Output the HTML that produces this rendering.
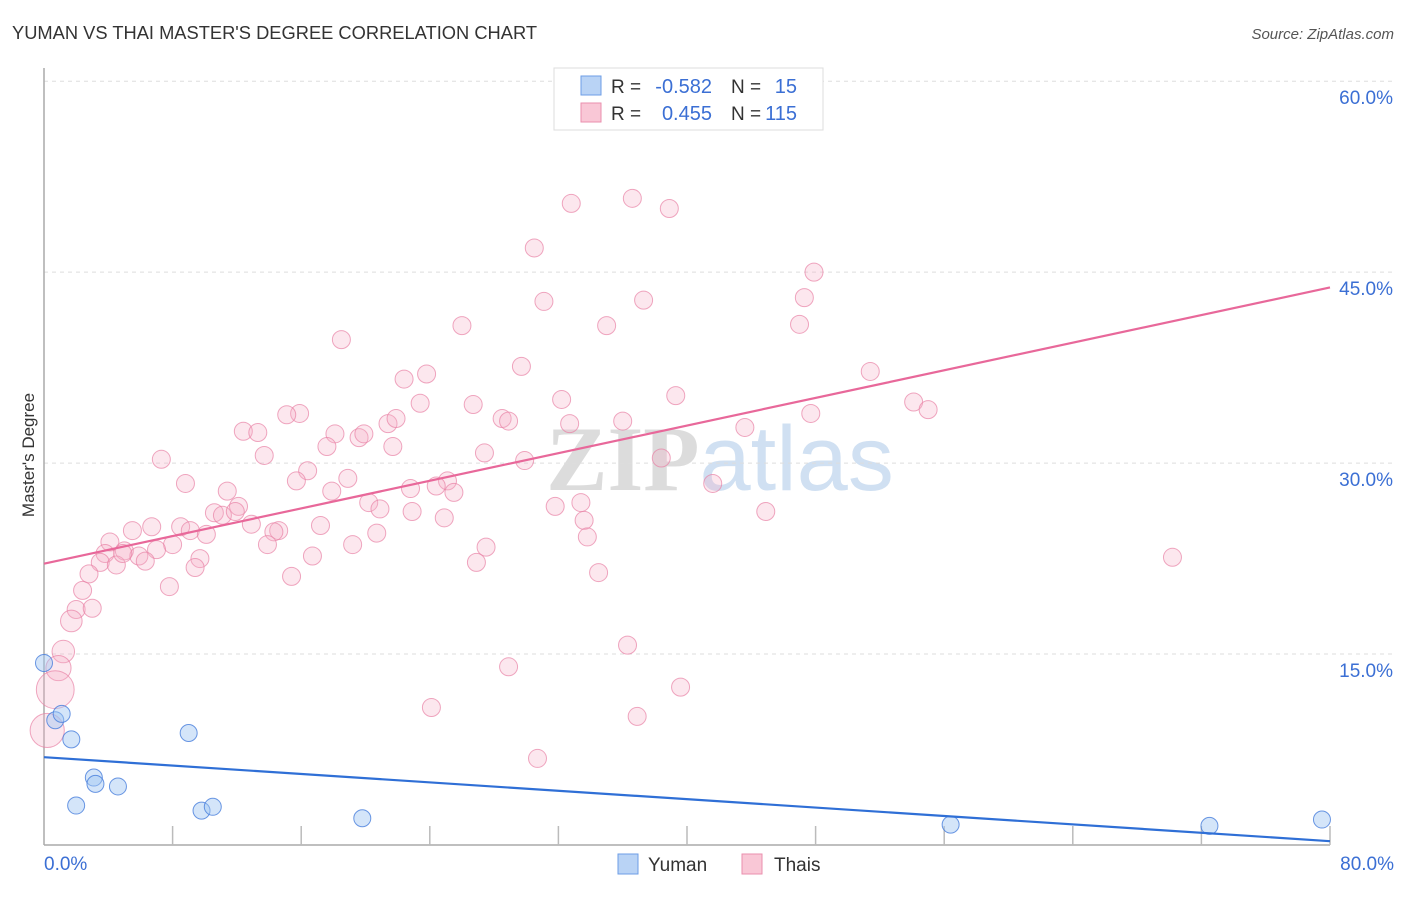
<!DOCTYPE html>
<html><head><meta charset="utf-8"><style>
body{margin:0;background:#fff;font-family:"Liberation Sans",sans-serif}
svg text{font-family:"Liberation Sans",sans-serif}
</style></head><body>
<svg id="chart" width="1406" height="892" viewBox="0 0 1406 892" xmlns="http://www.w3.org/2000/svg">
<text x="12" y="39" font-size="18" fill="#333" textLength="525" lengthAdjust="spacingAndGlyphs">YUMAN VS THAI MASTER'S DEGREE CORRELATION CHART</text>
<text x="1394" y="39" font-size="15" fill="#555" text-anchor="end" font-style="italic">Source: ZipAtlas.com</text>
<text x="720" y="490" font-size="92" text-anchor="middle"><tspan fill="#dcdcdc" font-family="Liberation Serif" font-weight="bold">ZIP</tspan><tspan fill="#d0e0f2">atlas</tspan></text>
<g id="grid"></g>
<g id="axes"></g>
<g id="marks"></g>
<g id="trend"></g>
<text transform="translate(34,455) rotate(-90)" font-size="17" fill="#333" text-anchor="middle">Master's Degree</text>
<g>
<rect x="554" y="68" width="269" height="62" fill="#fff" stroke="#ddd"/>
<rect x="581" y="76" width="20" height="19" fill="#b9d3f5" stroke="#6d9ee6"/>
<text x="611" y="93" font-size="19" fill="#333">R =</text>
<text x="712" y="93" font-size="20" fill="#3b6fd4" text-anchor="end">-0.582</text>
<text x="731" y="93" font-size="19" fill="#333">N =</text>
<text x="797" y="93" font-size="20" fill="#3b6fd4" text-anchor="end">15</text>
<rect x="581" y="103" width="20" height="19" fill="#f9c7d6" stroke="#ea8fae"/>
<text x="611" y="120" font-size="19" fill="#333">R =</text>
<text x="712" y="120" font-size="20" fill="#3b6fd4" text-anchor="end">0.455</text>
<text x="731" y="120" font-size="19" fill="#333">N =</text>
<text x="797" y="120" font-size="20" fill="#3b6fd4" text-anchor="end">115</text>
</g>
<g>
<rect x="618" y="854" width="20" height="20" fill="#b9d3f5" stroke="#6d9ee6"/>
<text x="648" y="871" font-size="19" fill="#333">Yuman</text>
<rect x="742" y="854" width="20" height="20" fill="#f9c7d6" stroke="#ea8fae"/>
<text x="774" y="871" font-size="19" fill="#333">Thais</text>
</g>
</svg>
<script>
const yTicks=[15,30,45,60];
const yTickLabels=["15.0%","30.0%","45.0%","60.0%"];
const xTickValues=[0,8,16,24,32,40,48,56,64,72,80];
const xEndLabels=["0.0%","80.0%"];
const yumanX=[0,0.7,1.1,1.7,3.1,3.2,4.6,2.0,9.0,9.8,10.5,19.8,56.4,72.5,79.5];
const yumanY=[14.3,9.8,10.3,8.3,5.3,4.8,4.6,3.1,8.8,2.7,3.0,2.1,1.6,1.5,2.0];
const thaiX=[36.6,32.8,38.9,30.5,47.9,31.1,47.3,37.3,26.0,35.0,47.0,18.5,29.7,22.4,23.8,51.4,39.3,23.4,32.2,54.1,55.0,26.7,28.5,28.9,21.4,21.9,47.7,15.9,15.1,36.0,32.7,43.6,12.4,13.3,18.1,17.6,19.6,19.9,21.7,7.3,13.7,27.4,29.9,38.4,16.4,8.8,15.7,25.1,11.4,17.9,18.9,22.8,24.4,25.5,41.6,20.2,12.1,10.6,11.1,11.9,20.9,22.9,31.8,33.4,24.9,44.9,12.9,33.6,17.2,6.7,5.5,8.5,9.1,10.1,14.6,14.3,20.7,33.8,4.1,8.0,13.9,19.2,27.5,3.8,5.0,7.0,16.7,9.7,5.9,6.3,3.5,4.5,4.9,26.9,9.4,2.8,15.4,34.5,7.8,2.4,2.0,3.0,1.7,1.2,0.9,0.7,0.2,36.3,28.9,39.6,24.1,36.9,30.7,70.2];
const thaiY=[50.8,50.4,50.0,46.9,45.0,42.7,43.0,42.8,40.8,40.8,40.9,39.7,37.6,36.6,37.0,37.2,35.3,34.7,35.0,34.8,34.2,34.6,33.5,33.3,33.1,33.5,33.9,33.9,33.8,33.3,33.1,32.8,32.5,32.4,32.3,31.3,32.0,32.3,31.3,30.3,30.6,30.8,30.2,30.4,29.4,28.4,28.6,28.6,27.8,27.8,28.8,28.0,28.2,27.7,28.4,26.9,26.6,26.1,25.9,26.2,26.4,26.2,26.6,26.9,25.7,26.2,25.2,25.5,25.1,25.0,24.7,25.0,24.7,24.4,24.7,24.6,24.5,24.2,23.8,23.6,23.6,23.6,23.4,22.9,23.1,23.2,22.7,22.5,22.7,22.3,22.2,22.0,22.9,22.2,21.8,21.3,21.1,21.4,20.3,20.0,18.5,18.6,17.6,15.2,13.9,12.2,9.0,15.7,14.0,12.4,10.8,10.1,6.8,22.6];
const thaiWeight={103:1.25,104:1.4,105:2.1,106:1.9,102:1.2};
const thaiTrend=[22.1,43.8];
const yumanTrend=[6.9,0.3];
const NS="http://www.w3.org/2000/svg";
const X0=44,X1=1330,Y0=845,PXY=12.73;
function xs(v){return X0+(X1-X0)*v/80;}
function ys(v){return Y0-PXY*v;}
function mk(tag,attrs,parent){const e=document.createElementNS(NS,tag);for(const k in attrs)e.setAttribute(k,attrs[k]);parent.appendChild(e);return e;}
const grid=document.getElementById('grid'),axes=document.getElementById('axes'),marks=document.getElementById('marks'),trend=document.getElementById('trend');
yTicks.forEach((t,i)=>{
 const l=mk('line',{x1:X0,x2:1394,y1:ys(t),y2:ys(t),stroke:'#ddd','stroke-dasharray':'4,4'},grid);
 
 
 const tx=mk('text',{x:1393,y:ys(t)+23,'font-size':19,fill:'#3b6fd4','text-anchor':'end'},grid);
 tx.textContent=yTickLabels[i];
 
 
});
const ax=mk('line',{x1:X0,x2:X0,y1:68,y2:Y0,stroke:'#aaa','stroke-width':1.5},axes);


const bx=mk('line',{x1:X0,x2:X1,y1:Y0,y2:Y0,stroke:'#aaa','stroke-width':1.5},axes);


xTickValues.forEach(v=>{
 if(v===0)return;
 const t=mk('line',{x1:xs(v),x2:xs(v),y1:Y0-19,y2:Y0,stroke:'#bbb','stroke-width':1.5},axes);
 
 
});
[[0,'start',44],[80,'end',1394]].forEach((d,i)=>{
 const t=mk('text',{x:d[2],y:870,'font-size':19,fill:'#3b6fd4','text-anchor':d[1]},axes);
 t.textContent=xEndLabels[i];
 
 
});
thaiX.forEach((x,i)=>{
 const r=9*(thaiWeight[i]||1);
 const c=mk('circle',{cx:xs(x),cy:ys(thaiY[i]),r:r,fill:'rgba(246,175,200,0.3)',stroke:'rgba(232,130,165,0.7)','stroke-width':1},marks);
 
 
});
yumanX.forEach((x,i)=>{
 const c=mk('circle',{cx:xs(x),cy:ys(yumanY[i]),r:8.5,fill:'rgba(160,198,242,0.45)',stroke:'rgba(70,125,220,0.8)','stroke-width':1},marks);
 
 
});
const tp=mk('line',{x1:xs(0),y1:ys(thaiTrend[0]),x2:xs(80),y2:ys(thaiTrend[1]),stroke:'#e8689a','stroke-width':2.2},trend);


const yt=mk('line',{x1:xs(0),y1:ys(yumanTrend[0]),x2:xs(80),y2:ys(yumanTrend[1]),stroke:'#2f6fd6','stroke-width':2.2},trend);


</script>
</body></html>
